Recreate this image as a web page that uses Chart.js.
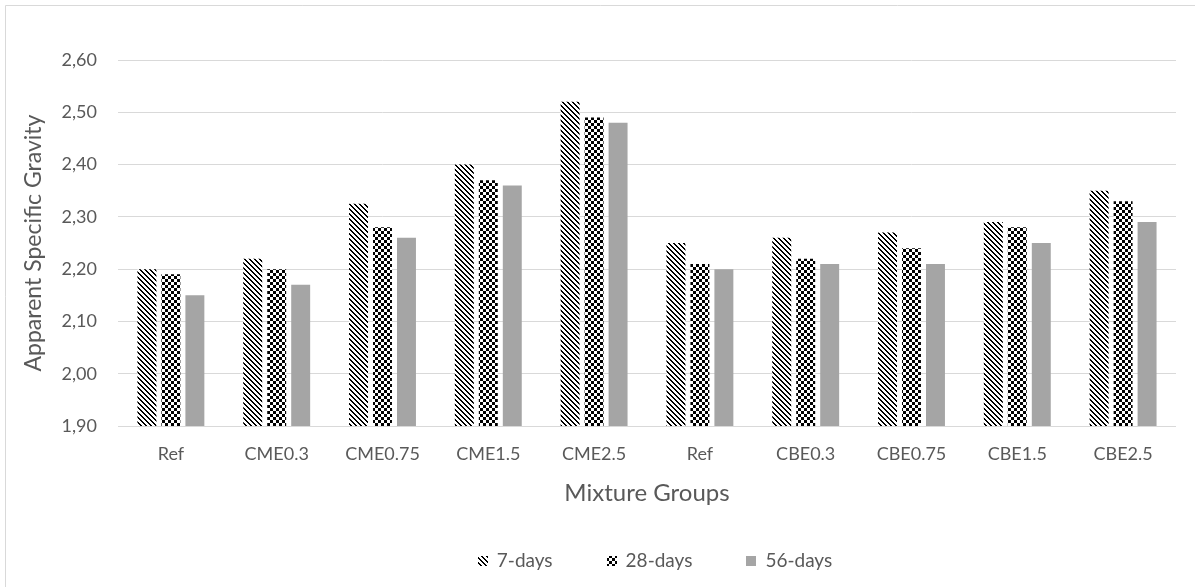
<!DOCTYPE html>
<html>
<head>
<meta charset="utf-8">
<script src="https://cdn.jsdelivr.net/npm/chart.js@4.4.1/dist/chart.umd.min.js"></script>
<style>
  html,body{margin:0;padding:0;background:#fff;}
  #wrap{width:1195px;height:587px;position:relative;}
</style>
</head>
<body>
<div id="wrap"><canvas id="c" width="1195" height="587"></canvas></div>
<script>
const categories = ['Ref','CME0.3','CME0.75','CME1.5','CME2.5','Ref','CBE0.3','CBE0.75','CBE1.5','CBE2.5'];
const days7  = [2.20, 2.22, 2.325, 2.40, 2.52, 2.25, 2.26, 2.27, 2.29, 2.35];
const days28 = [2.19, 2.20, 2.28, 2.37, 2.49, 2.21, 2.22, 2.24, 2.28, 2.33];
const days56 = [2.15, 2.17, 2.26, 2.36, 2.48, 2.20, 2.21, 2.21, 2.25, 2.29];
const seriesNames = ['7-days','28-days','56-days'];
const yMin = 1.9, yMax = 2.6, yStep = 0.1;

function hatchPattern(){
  const n = 10;
  const c = document.createElement('canvas'); c.width = n; c.height = n;
  const x = c.getContext('2d');
  x.fillStyle = '#ffffff'; x.fillRect(0,0,n,n);
  x.fillStyle = '#000000';
  for (let i=0;i<n;i++) for (let j=0;j<n;j++){
    const d = ((i - j) % 5 + 5) % 5;
    if (d === 0 || d === 1) x.fillRect(i,j,1,1);
  }
  return x.createPattern(c,'repeat');
}
function checkPattern(){
  const c = document.createElement('canvas'); c.width = 6; c.height = 6;
  const x = c.getContext('2d');
  x.fillStyle = '#ffffff'; x.fillRect(0,0,6,6);
  x.fillStyle = '#000000';
  x.fillRect(0,0,3,3); x.fillRect(3,3,3,3);
  return x.createPattern(c,'repeat');
}

const textColor = '#595959';
const fontFam = 'Lato, Carlito, Calibri, "Liberation Sans", sans-serif';

const borderPlugin = {
  id:'outerBorder',
  beforeDraw(chart){
    const ctx = chart.ctx;
    ctx.save();
    ctx.fillStyle = '#ffffff';
    ctx.fillRect(0,0,chart.width,chart.height);
    ctx.strokeStyle = '#d9d9d9';
    ctx.lineWidth = 1;
    ctx.beginPath();
    ctx.moveTo(5.5, chart.height);
    ctx.lineTo(5.5, 5.5);
    ctx.lineTo(chart.width, 5.5);
    ctx.stroke();
    ctx.restore();
  }
};

// Legend drawn from the datasets (labels + fills), laid out below the x-axis title.
const legendPlugin = {
  id:'customLegend',
  afterDraw(chart){
    const ctx = chart.ctx;
    const box = 10, gap = 9, spacing = 54, fontSize = 19;
    ctx.save();
    ctx.font = fontSize + 'px ' + fontFam;
    ctx.textBaseline = 'middle';
    ctx.textAlign = 'left';
    const items = chart.data.datasets.map(ds => ({label: ds.label, fill: ds.backgroundColor, w: ctx.measureText(ds.label).width}));
    const total = items.reduce((s,it)=> s + box + gap + it.w, 0) + spacing*(items.length-1);
    const ca = chart.chartArea;
    let x = (ca.left + ca.right)/2 + 8 - total/2;
    const yMid = chart.height - 26;
    items.forEach(it => {
      ctx.fillStyle = it.fill;
      ctx.fillRect(Math.round(x), Math.round(yMid - box/2), box, box);
      ctx.fillStyle = textColor;
      ctx.fillText(it.label, x + box + gap, yMid);
      x += box + gap + it.w + spacing;
    });
    ctx.restore();
  }
};

new Chart(document.getElementById('c'), {
  type:'bar',
  data:{
    labels: categories,
    datasets:[
      {label: seriesNames[0], data: days7,  backgroundColor: hatchPattern(), borderWidth:0},
      {label: seriesNames[1], data: days28, backgroundColor: checkPattern(), borderWidth:0},
      {label: seriesNames[2], data: days56, backgroundColor: '#a5a5a5', borderWidth:0}
    ]
  },
  options:{
    responsive:false,
    animation:false,
    devicePixelRatio:1,
    datasets:{bar:{categoryPercentage:0.68, barPercentage:0.79}},
    layout:{padding:{left:5, top:60, right:19, bottom:71}},
    plugins:{
      legend:{display:false},
      tooltip:{enabled:false}
    },
    scales:{
      x:{
        grid:{display:false},
        border:{display:false},
        ticks:{color:textColor, font:{family:fontFam, size:18}, padding:9, maxRotation:0, autoSkip:false},
        title:{display:true, text:'Mixture Groups', color:textColor, font:{family:fontFam, size:24}, padding:{top:0, bottom:8}},
        afterFit(s){ s.height = 90; }
      },
      y:{
        min:yMin, max:yMax,
        grid:{color:'#d9d9d9', drawTicks:false},
        border:{display:false},
        ticks:{
          stepSize:yStep, color:textColor, font:{family:fontFam, size:18}, padding:21,
          callback:(v)=>Number(v).toFixed(2).replace('.',',')
        },
        title:{display:true, text:'Apparent Specific Gravity', color:textColor, font:{family:fontFam, size:23}, padding:{top:15, bottom:0}},
        afterFit(s){ s.width = 113; }
      }
    }
  },
  plugins:[borderPlugin, legendPlugin]
});
</script>
</body>
</html>
